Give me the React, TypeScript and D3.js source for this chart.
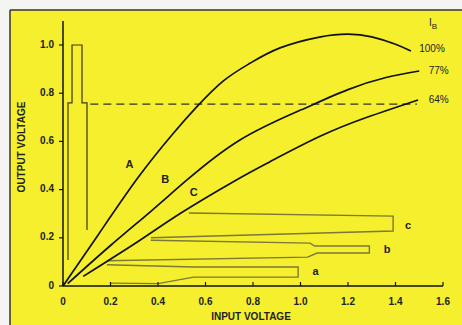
import React from "react";
import * as d3 from "d3";

type P = [number, number];

const xTicks = [0, 0.2, 0.4, 0.6, 0.8, 1.0, 1.2, 1.4, 1.6];
const yTicks = [0, 0.2, 0.4, 0.6, 0.8, 1.0];
const xTickLabels = ["0", "0.2", "0.4", "0.6", "0.8", "1.0", "1.2", "1.4", "1.6"];
const yTickLabels = ["0", "0.2", "0.4", "0.6", "0.8", "1.0"];

const curveA: P[] = [
  [0, 0], [0.15, 0.215], [0.316, 0.45], [0.463, 0.632], [0.563, 0.743], [0.674, 0.85],
  [0.787, 0.924], [0.914, 0.988], [1.08, 1.033], [1.2, 1.045], [1.3, 1.034], [1.4, 1.003], [1.465, 0.975],
];
const curveB: P[] = [
  [0.02, 0.01], [0.2, 0.168], [0.37, 0.31], [0.522, 0.44], [0.745, 0.606], [1.0, 0.73],
  [1.2, 0.815], [1.36, 0.865], [1.5, 0.892],
];
const curveC: P[] = [
  [0.085, 0.04], [0.324, 0.19], [0.5, 0.305], [0.73, 0.44], [0.87, 0.515], [1.08, 0.62],
  [1.28, 0.7], [1.495, 0.772],
];
const curveLetters = ["A", "B", "C"];
const letterPos: P[] = [[0.28, 0.5], [0.43, 0.44], [0.55, 0.385]];
const seriesLabels = ["100%", "77%", "64%"];
const seriesLabelPos: P[] = [[1.5, 0.98], [1.54, 0.89], [1.54, 0.77]];

const dashLevel = 0.755;
const dashRange = [0.115, 1.49];

const pulse: P[] = [
  [0.021, 0.108], [0.021, 0.76], [0.038, 0.76], [0.038, 1.0], [0.08, 1.0],
  [0.08, 0.76], [0.101, 0.76], [0.101, 0.232],
];

const bracketC: P[] = [[0.53, 0.303], [1.39, 0.29], [1.39, 0.228], [0.37, 0.2]];
const bracketB: P[] = [
  [0.37, 0.19], [1.04, 0.178], [1.06, 0.166], [1.29, 0.166], [1.29, 0.137],
  [1.07, 0.137], [1.03, 0.12], [0.185, 0.105],
];
const bracketA: P[] = [
  [0.185, 0.088], [0.55, 0.079], [0.99, 0.079], [0.99, 0.037], [0.55, 0.037],
  [0.4, 0.01], [0.2, 0.012],
];
const bracketLabels = ["c", "b", "a"];
const bracketLabelPos: P[] = [[1.44, 0.25], [1.35, 0.15], [1.05, 0.058]];

export default function App() {
  const W = 462, H = 325;
  const x = d3.scaleLinear().domain([0, 1.6]).range([63, 443]);
  const y = d3.scaleLinear().domain([0, 1]).range([286, 45]);
  const smooth = d3.line<P>().x(d => x(d[0])).y(d => y(d[1])).curve(d3.curveNatural);
  const poly = d3.line<P>().x(d => x(d[0])).y(d => y(d[1]));
  const font = "'Liberation Sans', Arial, sans-serif";

  return (
    <svg width={W} height={H} style={{ position: "absolute", left: 0, top: 0 }}>
      <rect x={0} y={0} width={W} height={H} fill="#f4f4f2" />
      <rect x={10} y={10} width={W - 10} height={H - 10} fill="#f5ef2e" />
      <line x1={10} y1={10} x2={W} y2={10} stroke="#333" strokeWidth={1.5} />
      <line x1={10} y1={10} x2={10} y2={H} stroke="#333" strokeWidth={1.5} />

      {/* artifact brackets */}
      {[bracketC, bracketB, bracketA].map((b, i) => (
        <path key={i} d={poly(b) || ""} fill="none" stroke="#7c7838" strokeWidth={1.4} />
      ))}
      {bracketLabels.map((t, i) => (
        <text key={t} x={x(bracketLabelPos[i][0])} y={y(bracketLabelPos[i][1])} fontFamily={font}
          fontWeight="bold" fontSize={11} fill="#222" dominantBaseline="middle">{t}</text>
      ))}

      {/* pulse */}
      <path d={poly(pulse) || ""} fill="none" stroke="#3a3820" strokeWidth={1.2} />

      {/* axes */}
      <line x1={x(0)} y1={y(0)} x2={x(1.6)} y2={y(0)} stroke="#111" strokeWidth={1.5} />
      <line x1={x(0)} y1={y(0)} x2={x(0)} y2={y(1.1)} stroke="#111" strokeWidth={1.5} />
      {xTicks.map((t, i) => (
        <g key={t}>
          <line x1={x(t)} x2={x(t)} y1={y(0)} y2={y(0) - 4} stroke="#111" strokeWidth={1.2} />
          <text x={x(t)} y={y(0) + 19} textAnchor="middle" fontFamily={font} fontWeight="bold"
            fontSize={10} fill="#222">{xTickLabels[i]}</text>
        </g>
      ))}
      {yTicks.map((t, i) => (
        <g key={t}>
          <line x1={x(0) - 4} x2={x(0)} y1={y(t)} y2={y(t)} stroke="#111" strokeWidth={1.2} />
          <text x={x(0) - 9} y={y(t)} textAnchor="end" dominantBaseline="middle" fontFamily={font}
            fontWeight="bold" fontSize={10} fill="#222">{yTickLabels[i]}</text>
        </g>
      ))}
      <text x={251} y={320} textAnchor="middle" fontFamily={font} fontWeight="bold" fontSize={10} fill="#222">
        INPUT VOLTAGE
      </text>
      <text transform="translate(25,147) rotate(-90)" textAnchor="middle" fontFamily={font}
        fontWeight="bold" fontSize={10} fill="#222">OUTPUT VOLTAGE</text>

      {/* dashed line */}
      <line x1={x(dashRange[0])} x2={x(dashRange[1])} y1={y(dashLevel)} y2={y(dashLevel)}
        stroke="#333" strokeWidth={1.3} strokeDasharray="8,5" />

      {/* curves */}
      {[curveA, curveB, curveC].map((c, i) => (
        <path key={i} d={smooth(c) || ""} fill="none" stroke="#111" strokeWidth={1.7} />
      ))}
      {curveLetters.map((t, i) => (
        <text key={t} x={x(letterPos[i][0])} y={y(letterPos[i][1])} textAnchor="middle"
          dominantBaseline="middle" fontFamily={font} fontWeight="bold" fontSize={11} fill="#222">{t}</text>
      ))}
      {seriesLabels.map((t, i) => (
        <text key={t} x={x(seriesLabelPos[i][0])} y={y(seriesLabelPos[i][1])} dominantBaseline="middle"
          fontFamily={font} fontSize={10} fill="#222">{t}</text>
      ))}
      <text x={429} y={26} fontFamily={font} fontSize={10} fill="#222">I
        <tspan fontSize={8} dy={3}>B</tspan>
      </text>
    </svg>
  );
}
